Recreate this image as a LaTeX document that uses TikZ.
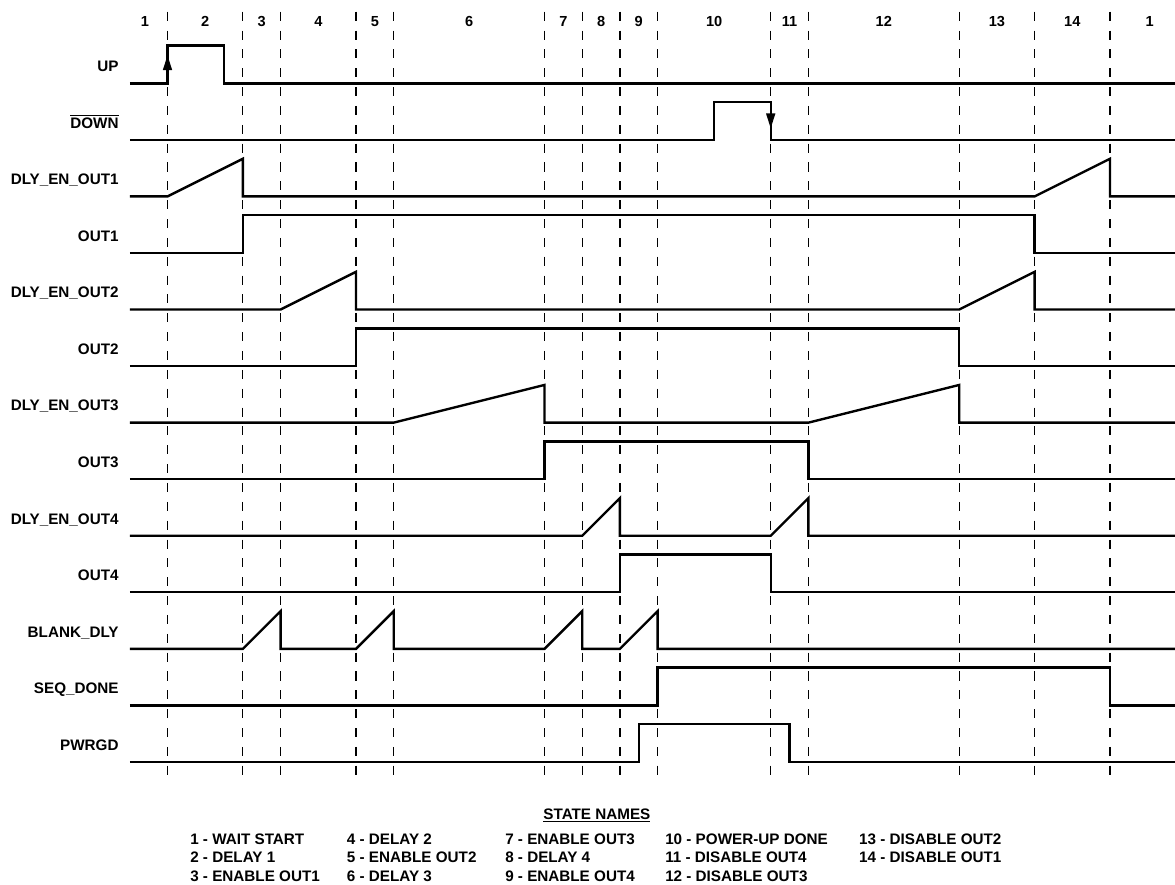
\documentclass[tikz,border=0pt]{standalone}
\usepackage{fontspec}
\setmainfont{Liberation Sans}
\usepackage{tikz}
\usetikzlibrary{arrows.meta}

\begin{document}
\begin{tikzpicture}[
 x=1cm, y=1cm,
 sig/.style={line width=1.8pt, line join=miter},
 divline/.style={line width=0.9pt, dash pattern=on 2.4mm off 2.6mm},
 edgearrow/.style={sig, -{Triangle[length=4mm,width=2.3mm]}},
 lbl/.style={anchor=base east, inner sep=0pt},
 num/.style={anchor=base, inner sep=0pt, font=\fontsize{11}{13}\selectfont\bfseries},
 key/.style={anchor=base west, inner sep=0pt},
 font=\fontsize{11.5}{13.8}\selectfont\bfseries
]
\useasboundingbox (-4.443,-21.239) rectangle (26.724,2.210);

\foreach \x in {0,2,3,5,6,10,11,12,13,16,17,21,23,25}
  \draw[divline] (\x,1.9) -- (\x,-18.4);

\foreach \x/\t [count=\i] in {-0.6/1,1/2,2.5/3,4/4,5.5/5,8/6,10.5/7,11.5/8,12.5/9,14.5/10,16.5/11,19/12,22/13,24/14,26.05/1}
  \node[num] (n\i) at (\x,1.52) {\t};

\node[lbl] (up)    at (-1.29,0.31)   {UP};
\node[lbl] (down)  at (-1.29,-1.19)  {$\overline{\mbox{DOWN}}$};
\node[lbl] (dly1)  at (-1.29,-2.69)  {DLY\_EN\_OUT1};
\node[lbl] (out1)  at (-1.29,-4.19)  {OUT1};
\node[lbl] (dly2)  at (-1.29,-5.69)  {DLY\_EN\_OUT2};
\node[lbl] (out2)  at (-1.29,-7.19)  {OUT2};
\node[lbl] (dly3)  at (-1.29,-8.69)  {DLY\_EN\_OUT3};
\node[lbl] (out3)  at (-1.29,-10.19) {OUT3};
\node[lbl] (dly4)  at (-1.29,-11.69) {DLY\_EN\_OUT4};
\node[lbl] (out4)  at (-1.29,-13.19) {OUT4};
\node[lbl] (blank) at (-1.29,-14.69) {BLANK\_DLY};
\node[lbl] (seq)   at (-1.29,-16.19) {SEQ\_DONE};
\node[lbl] (pg)    at (-1.29,-17.69) {PWRGD};

\draw[sig] (-1,0) -- (0,0) -- (0,1) -- (1.5,1) -- (1.5,0) -- (26.72,0);
\draw[edgearrow] (0,0) -- (0,0.75);
\draw[sig] (-1,-1.5) -- (14.5,-1.5) -- (14.5,-0.5) -- (16,-0.5) -- (16,-1.5) -- (26.72,-1.5);
\draw[edgearrow] (16,-0.5) -- (16,-1.2);
\draw[sig] (-1,-3) -- (0,-3) -- (2,-2) -- (2,-3) -- (23,-3) -- (25,-2) -- (25,-3) -- (26.72,-3);
\draw[sig] (-1,-4.5) -- (2,-4.5) -- (2,-3.5) -- (23,-3.5) -- (23,-4.5) -- (26.72,-4.5);
\draw[sig] (-1,-6) -- (3,-6) -- (5,-5) -- (5,-6) -- (21,-6) -- (23,-5) -- (23,-6) -- (26.72,-6);
\draw[sig] (-1,-7.5) -- (5,-7.5) -- (5,-6.5) -- (21,-6.5) -- (21,-7.5) -- (26.72,-7.5);
\draw[sig] (-1,-9) -- (6,-9) -- (10,-8) -- (10,-9) -- (17,-9) -- (21,-8) -- (21,-9) -- (26.72,-9);
\draw[sig] (-1,-10.5) -- (10,-10.5) -- (10,-9.5) -- (17,-9.5) -- (17,-10.5) -- (26.72,-10.5);
\draw[sig] (-1,-12) -- (11,-12) -- (12,-11) -- (12,-12) -- (16,-12) -- (17,-11) -- (17,-12) -- (26.72,-12);
\draw[sig] (-1,-13.5) -- (12,-13.5) -- (12,-12.5) -- (16,-12.5) -- (16,-13.5) -- (26.72,-13.5);
\draw[sig] (-1,-15) -- (2,-15) -- (3,-14) -- (3,-15) -- (5,-15) -- (6,-14) -- (6,-15) -- (10,-15) -- (11,-14) -- (11,-15)
  -- (12,-15) -- (13,-14) -- (13,-15) -- (26.72,-15);
\draw[sig] (-1,-16.5) -- (13,-16.5) -- (13,-15.5) -- (25,-15.5) -- (25,-16.5) -- (26.72,-16.5);
\draw[sig] (-1,-18) -- (12.5,-18) -- (12.5,-17) -- (16.5,-17) -- (16.5,-18) -- (26.72,-18);

\node[anchor=base, inner sep=0pt] (names) at (11.39,-19.52) {\underline{STATE NAMES}};
\foreach \x/\y/\t [count=\i] in {0.597/-20.2/1 - WAIT START, 0.597/-20.68/2 - DELAY 1, 0.597/-21.16/3 - ENABLE OUT1,
  4.753/-20.2/4 - DELAY 2, 4.753/-20.68/5 - ENABLE OUT2, 4.753/-21.16/6 - DELAY 3,
  8.952/-20.2/7 - ENABLE OUT3, 8.952/-20.68/8 - DELAY 4, 8.952/-21.16/9 - ENABLE OUT4,
  13.196/-20.2/10 - POWER-UP DONE, 13.196/-20.68/11 - DISABLE OUT4, 13.196/-21.16/12 - DISABLE OUT3,
  18.34/-20.2/13 - DISABLE OUT2, 18.34/-20.68/14 - DISABLE OUT1}
  \node[key] (st\i) at (\x,\y) {\t};
\end{tikzpicture}
\end{document}
